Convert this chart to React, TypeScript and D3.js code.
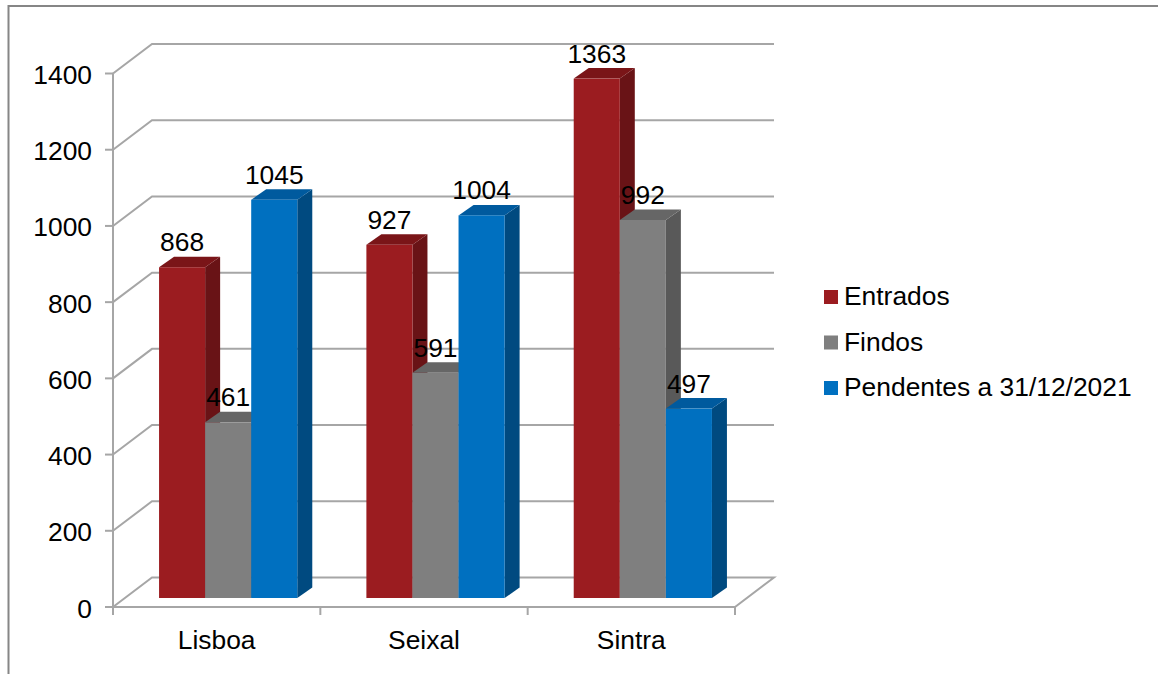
import React from "react";
import * as d3 from "d3";

// Court districts and the case counts reported for each one.
const comarcas = ["Lisboa", "Seixal", "Sintra"];
const seriesNames = ["Entrados", "Findos", "Pendentes a 31/12/2021"];
const entrados = [868, 927, 1363];
const findos = [461, 591, 992];
const pendentes = [1045, 1004, 497];
const seriesValues = [entrados, findos, pendentes];
const yTicks = [0, 200, 400, 600, 800, 1000, 1200, 1400];

// Front, top and side shades of each series.
const frontColors = ["#9B1C20", "#7F7F7F", "#0070C0"];
const topColors = ["#7A1518", "#666666", "#005A9E"];
const sideColors = ["#691316", "#595959", "#004A80"];

const FONT = "'Liberation Sans', Arial, sans-serif";
const FONT_SIZE = 26.4;
const GRID = "#A6A6A6";
const FRAME = "#868686";

// Oblique projection of the chart box and of the bars inside it.
const wall = { dx: 39, dy: -29.5 };
const barInset = { dx: 11.5, dy: -9 };
const barDepth = { dx: 15, dy: -10.5 };

const left = 113;
const right = 735;
const bottom = 607;
const top = 73.5;

export default function App() {
  const y = d3.scaleLinear().domain([0, 1400]).range([bottom, top]);
  const x = d3.scaleBand<string>().domain(comarcas).range([left, right]);
  const inner = d3
    .scaleBand<string>()
    .domain(seriesNames)
    .range([0, x.bandwidth()])
    .paddingInner(0)
    .paddingOuter(0.75);

  const poly = (pts: [number, number][]) => pts.map((p) => p.join(",")).join(" ");
  const tickEdges = [...comarcas.map((c) => x(c) as number), right];

  return (
    <svg
      width={1158}
      height={674}
      viewBox="0 0 1158 674"
      style={{ position: "absolute", left: 0, top: 0, background: "#fff" }}
      fontFamily={FONT}
    >
      {/* outer chart border: left and top edges */}
      <path d="M8.5 674 V6 H1158" fill="none" stroke={FRAME} strokeWidth={2} />

      {/* back-wall gridlines with their diagonal returns */}
      {yTicks.map((t) => (
        <g key={t} fill="none" stroke={GRID} strokeWidth={2}>
          {t > 0 && (
            <polyline
              points={poly([
                [left, y(t)],
                [left + wall.dx, y(t) + wall.dy],
                [right + wall.dx, y(t) + wall.dy],
              ])}
            />
          )}
          <line x1={left - 8} x2={left} y1={y(t)} y2={y(t)} />
        </g>
      ))}

      {/* floor outline and axes */}
      <g fill="none" stroke={GRID} strokeWidth={2}>
        <polyline
          points={poly([
            [left, bottom],
            [left + wall.dx, bottom + wall.dy],
            [right + wall.dx, bottom + wall.dy],
            [right, bottom],
            [left, bottom],
          ])}
        />
        <line x1={left} x2={left} y1={top} y2={bottom} />
        {tickEdges.map((tx) => (
          <line key={tx} x1={tx} x2={tx} y1={bottom} y2={bottom + 8} />
        ))}
      </g>

      {/* y axis labels */}
      {yTicks.map((t) => (
        <text key={t} x={92} y={y(t) + 10.5} textAnchor="end" fontSize={FONT_SIZE} fill="#000">
          {t}
        </text>
      ))}

      {/* category labels */}
      {comarcas.map((c) => (
        <text
          key={c}
          x={(x(c) as number) + x.bandwidth() / 2}
          y={649}
          textAnchor="middle"
          fontSize={FONT_SIZE}
          fill="#000"
        >
          {c}
        </text>
      ))}

      {/* extruded bars, drawn left to right so each front covers the previous side */}
      {comarcas.map((c, ci) =>
        seriesNames.map((s, si) => {
          const value = seriesValues[si][ci];
          const x0 = (x(c) as number) + (inner(s) as number) + barInset.dx;
          const x1 = x0 + inner.bandwidth();
          const yBase = y(0) + barInset.dy;
          const yTop = y(value) + barInset.dy;
          const { dx, dy } = barDepth;
          return (
            <g key={s}>
              <polygon
                fill={sideColors[si]}
                points={poly([
                  [x1, yTop],
                  [x1 + dx, yTop + dy],
                  [x1 + dx, yBase + dy],
                  [x1, yBase],
                ])}
              />
              <polygon
                fill={topColors[si]}
                points={poly([
                  [x0, yTop],
                  [x0 + dx, yTop + dy],
                  [x1 + dx, yTop + dy],
                  [x1, yTop],
                ])}
              />
              <rect x={x0} y={yTop} width={x1 - x0} height={yBase - yTop} fill={frontColors[si]} />
            </g>
          );
        })
      )}

      {/* value labels sit above the bars */}
      {comarcas.map((c, ci) =>
        seriesNames.map((s, si) => {
          const value = seriesValues[si][ci];
          const cx = (x(c) as number) + (inner(s) as number) + barInset.dx + inner.bandwidth() / 2;
          return (
            <text
              key={s}
              x={cx}
              y={y(value) + barInset.dy - 16}
              textAnchor="middle"
              fontSize={FONT_SIZE}
              fill="#000"
            >
              {value}
            </text>
          );
        })
      )}

      {/* legend */}
      {seriesNames.map((s, si) => {
        const ly = 297 + si * 45.5;
        return (
          <g key={s}>
            <rect x={824} y={ly - 7} width={14} height={14} fill={frontColors[si]} />
            <text x={844} y={ly + 8.3} fontSize={FONT_SIZE} fill="#000">
              {s}
            </text>
          </g>
        );
      })}
    </svg>
  );
}
